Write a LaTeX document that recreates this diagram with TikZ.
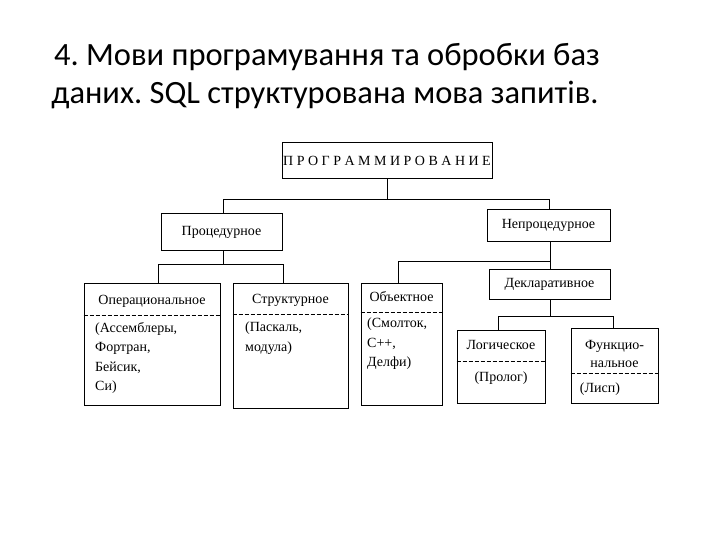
\documentclass[tikz,border=0pt]{standalone}
\usepackage{fontspec}
\setmainfont{Liberation Serif}
\newfontfamily\titlefont{Carlito}
\begin{document}
\begin{tikzpicture}[x=1pt,y=-1pt,
  box/.style={draw,line width=1pt,inner sep=0pt},
  lbl/.style={font=\fontsize{14}{16}\selectfont,inner sep=0pt},
  cnt/.style={font=\fontsize{14}{19.5}\selectfont,inner sep=0pt,align=left,anchor=north west},
  ln/.style={line width=1pt},
  dl/.style={line width=1pt,dashed,dash pattern=on 4pt off 2pt}]
\useasboundingbox (0,0) rectangle (720,540);
\node[font=\titlefont\fontsize{32.5}{38}\selectfont\frenchspacing,align=center] (title) at (325,76) {\hspace*{4pt}4. Мови програмування та обробки баз\\даних. SQL структурована мова запитів.};
% boxes
\node[box,minimum width=210,minimum height=36] (top) at (387,161) {};
\node[lbl,font=\fontsize{14}{16}\selectfont] (topt) at (387,161) {П Р О Г Р А М М И Р О В А Н И Е};
\node[box,minimum width=121,minimum height=36] (proc) at (221.5,232) {};
\node[lbl] (proct) at (221.5,232) {Процедурное};
\node[box,minimum width=123,minimum height=31] (nproc) at (548.5,225.5) {};
\node[lbl] (nproct) at (548.5,225.5) {Непроцедурное};
\node[box,minimum width=121,minimum height=30] (decl) at (549.5,284) {};
\node[lbl] (declt) at (549.5,284) {Декларативное};
\node[box,minimum width=136,minimum height=122] (oper) at (152,344) {};
\node[box,minimum width=115,minimum height=125] (str) at (290.5,345.5) {};
\node[box,minimum width=81,minimum height=122] (obj) at (401.5,344) {};
\node[box,minimum width=88,minimum height=73] (log) at (501,366.5) {};
\node[box,minimum width=87,minimum height=75] (func) at (614.5,365.5) {};
% dashed dividers
\draw[dl] (oper.west |- 0,315) -- (oper.east |- 0,315);
\draw[dl] (str.west |- 0,314) -- (str.east |- 0,314);
\draw[dl] (obj.west |- 0,312) -- (obj.east |- 0,312);
\draw[dl] (log.west |- 0,361) -- (log.east |- 0,361);
\draw[dl] (func.west |- 0,373) -- (func.east |- 0,373);
% labels
\node[lbl] (opert) at (152,301) {Операциональное};
\node[cnt] (operc) at (95,322) {(Ассемблеры,\\Фортран,\\Бейсик,\\Си)};
\node[lbl] (strt) at (290.5,300) {Структурное};
\node[cnt] (strc) at (245,322) {(Паскаль,\\модула)};
\node[lbl] (objt) at (401.5,297) {Объектное};
\node[cnt] (objc) at (367,318) {(Смолток,\\С++,\\Делфи)};
\node[lbl] (logt) at (501,345) {Логическое};
\node[lbl] (logc) at (501,378) {(Пролог)};
\node[lbl,align=center,font=\fontsize{14}{18}\selectfont] (funct) at (614.5,354) {Функцио-\\нальное};
\node[lbl] (funcc) at (600,389) {(Лисп)};
% connectors
\draw[ln] (top.south) -- (387,200);
\draw[ln] (proc.north -| 223,0) |- (549,200) -- (nproc.north -| 549,0);
\draw[ln] (proc.south -| 223,0) -- (223,264);
\draw[ln] (oper.north -| 158,0) |- (283,264) -- (str.north -| 283,0);
\draw[ln] (nproc.south -| 550,0) -- (decl.north -| 550,0);
\draw[ln] (obj.north -| 398,0) |- (550,261);
\draw[ln] (decl.south -| 550,0) -- (550,316);
\draw[ln] (log.north -| 498,0) |- (613,316) -- (func.north -| 613,0);
\end{tikzpicture}
\end{document}
